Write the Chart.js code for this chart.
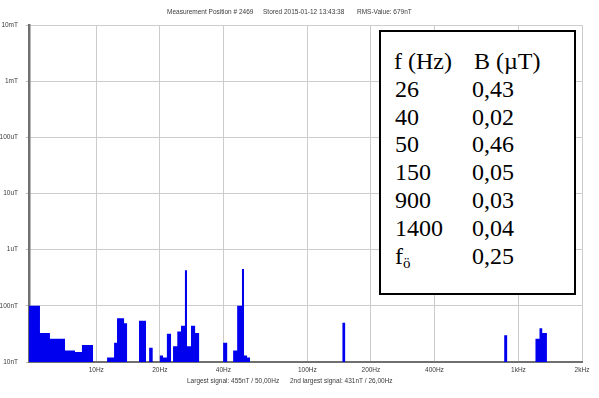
<!DOCTYPE html>
<html>
<head>
<meta charset="utf-8">
<script src="https://cdn.jsdelivr.net/npm/chart.js@4/dist/chart.umd.min.js"></script>
<style>
  html, body { margin: 0; padding: 0; background: #fff; }
  #wrap { position: relative; width: 599px; height: 398px; overflow: hidden; }
  #c { position: absolute; left: 0; top: 0; }
  #tbl {
    position: absolute; left: 379px; top: 30px; width: 193px; height: 261px;
    border: 2px solid #000; background: #fff;
    font-family: "Liberation Serif", "Times New Roman", serif; font-size: 24px; color: #000;
  }
  .cell { position: absolute; height: 24px; line-height: 24px; white-space: nowrap; }
  .cell sub { font-size: 15px; vertical-align: -4px; line-height: 0; }
</style>
</head>
<body>
<div id="wrap">
  <canvas id="c" width="599" height="398"></canvas>
  <div id="tbl"></div>
</div>
<script>
// Spectrum: each level (nT) holds from its bin edge (Hz) up to the next edge.
const edgeHz = [4.8, 5.41, 6.03, 7.11, 7.93, 8.55, 9.65, 11.25, 12.14, 12.54, 13.54, 13.99,
  15.94, 17.2, 17.8, 18.5, 20.0, 20.7, 21.6, 22.6, 23.1, 24.2, 25.2, 26.3, 26.9, 28.1, 29.4,
  30.7, 39.9, 41.7, 44.5, 46.5, 49.0, 50.1, 51.8, 53.5, 146.6, 151, 856, 884, 1204, 1258,
  1296, 1364, 2000];
const levelNT = [100, 33, 26, 16, 15, 20, 10, 12, 22, 60, 49, 10,
  54, 10, 18, 10, 13, 12, 32, 10, 19, 35, 44, 431, 19, 44, 33,
  10, 22, 10, 16, 100, 455, 13, 12, 10, 50, 10, 30, 10, 26, 40,
  33, 10, 10];

// Axis ticks
const xTickHz = [10, 20, 40, 100, 200, 400, 1000, 2000];
const xTickLabels = ['10Hz', '20Hz', '40Hz', '100Hz', '200Hz', '400Hz', '1kHz', '2kHz'];
const yTickNT = [10, 100, 1e3, 1e4, 1e5, 1e6, 1e7];
const yTickLabels = ['10nT', '100nT', '1uT', '10uT', '100uT', '1mT', '10mT'];

// Header / footer texts
const headerParts = ['Measurement Position # 2469', 'Stored 2015-01-12 13:43:38', 'RMS-Value: 679nT'];
const footerParts = ['Largest signal: 455nT / 50,00Hz', '2nd largest signal: 431nT / 26,00Hz'];

// Summary table
const tableHead = ['f (Hz)', 'B (\u00b5T)'];
const tableFreq = ['26', '40', '50', '150', '900', '1400', 'f<sub>\u00f6</sub>'];
const tableB = ['0,43', '0,02', '0,46', '0,05', '0,03', '0,04', '0,25'];

// Build the table box
(function buildTable() {
  const tbl = document.getElementById('tbl');
  const add = (html, left, top) => {
    const d = document.createElement('div');
    d.className = 'cell';
    d.style.left = left + 'px';
    d.style.top = top + 'px';
    d.innerHTML = html;
    tbl.appendChild(d);
  };
  add(tableHead[0], 13, 17);
  add(tableHead[1], 93, 17);
  const rowTop = [45, 73, 100, 128, 156, 184, 212];
  tableFreq.forEach((f, i) => {
    add(f, 14, rowTop[i]);
    add(tableB[i], 91, rowTop[i]);
  });
})();

const spectrum = edgeHz.map((f, i) => ({ x: f, y: levelNT[i] }));

const textPlugin = {
  id: 'captions',
  afterDraw(chart) {
    const ctx = chart.ctx;
    ctx.save();
    ctx.fillStyle = '#3a3a3a';
    ctx.font = '6.5px "Liberation Sans", Arial, sans-serif';
    ctx.textBaseline = 'middle';
    ctx.textAlign = 'left';
    const hx = [167, 263, 357];
    headerParts.forEach((t, i) => ctx.fillText(t, hx[i], 12));
    const fx = [187, 290];
    footerParts.forEach((t, i) => ctx.fillText(t, fx[i], 381));
    ctx.restore();
  }
};

new Chart(document.getElementById('c'), {
  type: 'line',
  data: {
    datasets: [{
      data: spectrum,
      stepped: 'before',
      fill: 'start',
      backgroundColor: '#0000ee',
      borderColor: 'rgba(0,0,0,0)',
      borderWidth: 0,
      pointRadius: 0,
      pointHoverRadius: 0
    }]
  },
  options: {
    responsive: false,
    devicePixelRatio: 1,
    animation: false,
    events: [],
    layout: { padding: { left: 0, right: 17, top: 25, bottom: 0 } },
    plugins: { legend: { display: false }, tooltip: { enabled: false } },
    scales: {
      x: {
        type: 'logarithmic',
        min: 4.8,
        max: 2000,
        afterBuildTicks: s => { s.ticks = xTickHz.map(v => ({ value: v })); },
        afterFit: s => { s.height = 36; },
        ticks: {
          callback: (v, i) => xTickLabels[i],
          autoSkip: false,
          maxRotation: 0,
          padding: 4,
          color: '#3a3a3a',
          font: { family: '"Liberation Sans", Arial, sans-serif', size: 6.5 }
        },
        grid: { color: '#cccccc', lineWidth: 1, drawTicks: false },
        border: { color: '#707070', width: 2 }
      },
      y: {
        type: 'logarithmic',
        min: 10,
        max: 1e7,
        afterBuildTicks: s => { s.ticks = yTickNT.map(v => ({ value: v })); },
        afterFit: s => { s.width = 29; },
        ticks: {
          callback: (v, i) => yTickLabels[i],
          autoSkip: false,
          padding: 8,
          color: '#3a3a3a',
          font: { family: '"Liberation Sans", Arial, sans-serif', size: 6.5 }
        },
        grid: { color: '#cccccc', lineWidth: 1, tickLength: 3, tickColor: '#bbbbbb' },
        border: { color: '#707070', width: 2.5 }
      }
    }
  },
  plugins: [textPlugin]
});
</script>
</body>
</html>
